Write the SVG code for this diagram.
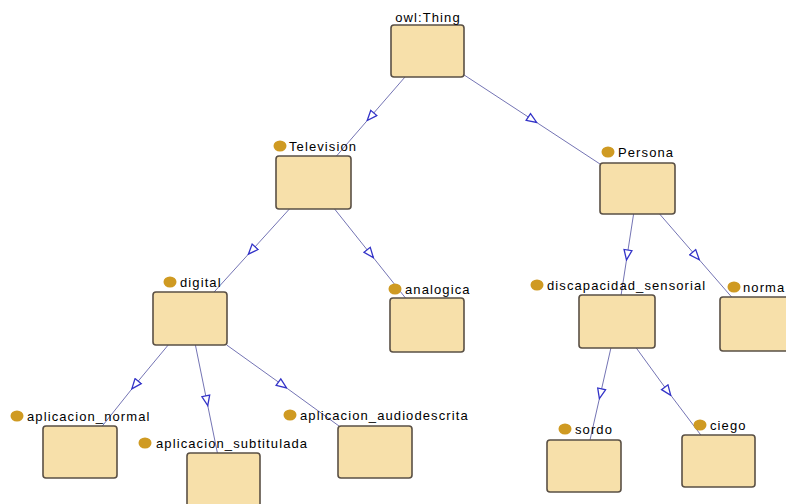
<svg xmlns="http://www.w3.org/2000/svg" width="786" height="504" viewBox="0 0 786 504">
<style>
.box{fill:#f7e0aa;stroke:#5a5045;stroke-width:1.6}
.dot{fill:#cf9a22}
.lbl{font-family:"Liberation Sans",Arial,sans-serif;font-size:13px;letter-spacing:1.1px;fill:#000}
.edge{fill:none;stroke:#7474b4;stroke-width:1;marker-mid:url(#tri)}
</style>
<defs>
<marker id="tri" viewBox="0 0 12 10" refX="6" refY="5" markerWidth="12" markerHeight="10" markerUnits="userSpaceOnUse" orient="auto">
<path d="M1,1 L11,5 L1,9 Z" fill="#ffffff" stroke="#3333c8" stroke-width="1.3"/>
</marker>
</defs>
<rect width="786" height="504" fill="#ffffff"/>
<g id="connectors">
<path class="edge" d="M405,77 L370.5,116.75 L336.5,156"/>
<path class="edge" d="M464,74.9 L532.5,119.75 L600,164"/>
<path class="edge" d="M289.4,209 L251.75,250.5 L214.1,292"/>
<path class="edge" d="M334.6,209 L370.25,253.75 L405.5,298"/>
<path class="edge" d="M633.6,214 L627.25,255 L621.1,295"/>
<path class="edge" d="M659.6,214 L696,256 L731.6,297"/>
<path class="edge" d="M168.2,345 L135,385 L102.3,426"/>
<path class="edge" d="M195.4,345 L206.75,400.75 L217.4,453"/>
<path class="edge" d="M226.7,345 L282.5,385 L339,426"/>
<path class="edge" d="M610.9,348 L600.5,393.75 L590,440"/>
<path class="edge" d="M636.3,348 L667.75,391.25 L700.8,435"/>
</g>
<g id="owl_Thing">
<rect class="box" x="391" y="25" width="73" height="52" rx="3"/>
<text class="lbl" x="428" y="22" text-anchor="middle">owl:Thing</text>
</g>
<g id="Television">
<rect class="box" x="276" y="156" width="75" height="53" rx="3"/>
<ellipse class="dot" cx="280" cy="146" rx="6.5" ry="5.5"/>
<text class="lbl" x="289" y="151">Television</text>
</g>
<g id="Persona">
<rect class="box" x="600" y="163" width="75" height="51" rx="3"/>
<ellipse class="dot" cx="608" cy="152" rx="6.5" ry="5.5"/>
<text class="lbl" x="618" y="157">Persona</text>
</g>
<g id="digital">
<rect class="box" x="153" y="292" width="74" height="53" rx="3"/>
<ellipse class="dot" cx="170" cy="282" rx="6.5" ry="5.5"/>
<text class="lbl" x="180" y="287">digital</text>
</g>
<g id="analogica">
<rect class="box" x="390" y="298" width="74" height="54" rx="3"/>
<ellipse class="dot" cx="395" cy="289" rx="6.5" ry="5.5"/>
<text class="lbl" x="405" y="294">analogica</text>
</g>
<g id="discapacidad_sensorial">
<rect class="box" x="579" y="295" width="76" height="53" rx="3"/>
<ellipse class="dot" cx="537" cy="285" rx="6.5" ry="5.5"/>
<text class="lbl" x="547" y="290">discapacidad_sensorial</text>
</g>
<g id="normal">
<rect class="box" x="720" y="297" width="72" height="54" rx="3"/>
<ellipse class="dot" cx="734" cy="287" rx="6.5" ry="5.5"/>
<text class="lbl" x="743" y="292">norma</text>
</g>
<g id="aplicacion_normal">
<rect class="box" x="43" y="426" width="74" height="52" rx="3"/>
<ellipse class="dot" cx="17" cy="416" rx="6.5" ry="5.5"/>
<text class="lbl" x="27" y="421">aplicacion_normal</text>
</g>
<g id="aplicacion_subtitulada">
<rect class="box" x="187" y="453" width="73" height="60" rx="3"/>
<ellipse class="dot" cx="145" cy="443" rx="6.5" ry="5.5"/>
<text class="lbl" x="156" y="448">aplicacion_subtitulada</text>
</g>
<g id="aplicacion_audiodescrita">
<rect class="box" x="338" y="426" width="74" height="52" rx="3"/>
<ellipse class="dot" cx="290" cy="415" rx="6.5" ry="5.5"/>
<text class="lbl" x="300" y="420">aplicacion_audiodescrita</text>
</g>
<g id="sordo">
<rect class="box" x="547" y="440" width="74" height="52" rx="3"/>
<ellipse class="dot" cx="565" cy="429" rx="6.5" ry="5.5"/>
<text class="lbl" x="575" y="434">sordo</text>
</g>
<g id="ciego">
<rect class="box" x="682" y="435" width="73" height="52" rx="3"/>
<ellipse class="dot" cx="700" cy="425" rx="6.5" ry="5.5"/>
<text class="lbl" x="710" y="430">ciego</text>
</g>
</svg>
